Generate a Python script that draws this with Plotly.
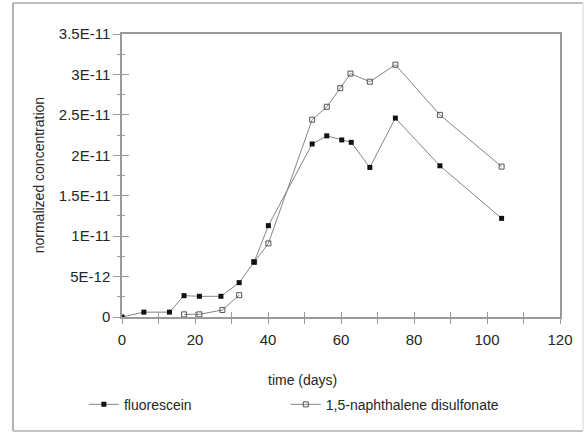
import plotly.graph_objects as go

# Fluorescein breakthrough (filled squares)
fluor_days = [0, 6, 13, 17, 21.2, 27.1, 32.1, 36.2, 40.1, 52.1, 56.1, 60.2, 62.8, 67.9, 74.9, 87.1, 104]
fluor_conc = [0, 0.6e-12, 0.6e-12, 2.64e-12, 2.56e-12, 2.56e-12, 4.25e-12, 6.8e-12, 11.3e-12,
              21.4e-12, 22.4e-12, 21.9e-12, 21.6e-12, 18.5e-12, 24.6e-12, 18.7e-12, 12.2e-12]

# 1,5-naphthalene disulfonate (open squares); None marks the break in the record
naph_days = [17, 21.2, 27.5, 32.1, None, 36.2, 40.1, 52.1, 56.1, 59.8, 62.6, 67.9, 74.9, 87.1, 104]
naph_conc = [0.33e-12, 0.33e-12, 0.87e-12, 2.7e-12, None, 6.8e-12, 9.1e-12, 24.4e-12, 26.0e-12,
             28.3e-12, 30.1e-12, 29.1e-12, 31.2e-12, 25.0e-12, 18.6e-12]

y_tickvals = [0, 5e-12, 1e-11, 1.5e-11, 2e-11, 2.5e-11, 3e-11, 3.5e-11]
y_ticktext = ["0", "5E-12", "1E-11", "1.5E-11", "2E-11", "2.5E-11", "3E-11", "3.5E-11"]
x_tickvals = [0, 20, 40, 60, 80, 100, 120]

FONT = "Liberation Sans, Arial, sans-serif"
TEXT = "#262626"
AXIS = "#9a9a9a"
LINE = "#858585"

fig = go.Figure()

fig.add_trace(go.Scatter(
    x=naph_days, y=naph_conc, mode="lines+markers",
    name="1,5-naphthalene disulfonate", legend="legend2",
    line=dict(color=LINE, width=1),
    marker=dict(symbol="square-open", size=5, color="#555555", line=dict(width=1)),
))
fig.add_trace(go.Scatter(
    x=fluor_days, y=fluor_conc, mode="lines+markers",
    name="fluorescein", legend="legend",
    line=dict(color=LINE, width=1),
    marker=dict(symbol="square", size=5, color="#111111"),
))

# second pair of axes carries the inward half of the crossing tick marks
fig.add_trace(go.Scatter(x=[None], y=[None], xaxis="x2", yaxis="y2",
                         showlegend=False, hoverinfo="skip"))

common = dict(showgrid=False, zeroline=False, tickcolor=AXIS, tickwidth=1)
legend_style = dict(orientation="h", xanchor="left", y=-0.31, yanchor="middle",
                    font=dict(size=14, color=TEXT), bgcolor="rgba(0,0,0,0)")

fig.update_layout(
    width=586, height=433,
    margin=dict(l=122, r=26, t=34, b=116),
    paper_bgcolor="white", plot_bgcolor="white",
    font=dict(family=FONT, size=14, color=TEXT),
    xaxis=dict(range=[0, 120], tickmode="array", tickvals=x_tickvals,
               ticks="outside", ticklen=5, mirror=True, showline=True,
               linecolor=AXIS, linewidth=1.5, ticklabelstandoff=3,
               tickfont=dict(size=15, color=TEXT),
               minor=dict(tickmode="linear", tick0=0, dtick=10, ticks="outside",
                          ticklen=5, tickcolor=AXIS, tickwidth=1),
               **common),
    yaxis=dict(range=[0, 3.5e-11], tickmode="array", tickvals=y_tickvals,
               ticktext=y_ticktext, ticks="outside", ticklen=7, mirror=True,
               showline=True, linecolor=AXIS, linewidth=1.5,
               tickfont=dict(size=15, color=TEXT),
               minor=dict(tickmode="linear", tick0=0, dtick=2.5e-12, ticks="outside",
                          ticklen=3, tickcolor=AXIS, tickwidth=1),
               **common),
    xaxis2=dict(range=[0, 120], overlaying="x", side="bottom", anchor="y2",
                tickmode="array", tickvals=x_tickvals, ticks="inside", ticklen=5,
                showticklabels=False, showline=False,
                minor=dict(tickmode="linear", tick0=0, dtick=10, ticks="inside",
                           ticklen=5, tickcolor=AXIS, tickwidth=1),
                **common),
    yaxis2=dict(range=[0, 3.5e-11], overlaying="y", side="left", anchor="x2",
                tickmode="array", tickvals=y_tickvals, ticks="inside", ticklen=7,
                showticklabels=False, showline=False,
                minor=dict(tickmode="linear", tick0=0, dtick=2.5e-12, ticks="inside",
                           ticklen=3, tickcolor=AXIS, tickwidth=1),
                **common),
    legend=dict(x=-0.087, **legend_style),
    legend2=dict(x=0.374, **legend_style),
    showlegend=True,
)

fig.add_annotation(text="time (days)", xref="paper", yref="paper",
                   x=0.413, y=-0.223, xanchor="center", yanchor="middle",
                   showarrow=False, font=dict(size=14, color=TEXT))
fig.add_annotation(text="normalized concentration", xref="paper", yref="paper",
                   x=-0.19, y=0.5, xanchor="center", yanchor="middle", textangle=-90,
                   showarrow=False, font=dict(size=14, color=TEXT))

# outer frame around the whole figure: strong left/top/bottom, faint right edge
px = lambda v: (v - 122) / 438
py = lambda v: (317 - v) / 283
for (x0, y0, x1, y1, col) in [(13, 3, 583, 3, "#a8a8a8"),
                              (13, 3, 13, 431, "#9a9a9a"),
                              (13, 431, 583, 431, "#b0b0b0"),
                              (583, 3, 583, 431, "#e2e2e2")]:
    fig.add_shape(type="line", xref="paper", yref="paper",
                  x0=px(x0), y0=py(y0), x1=px(x1), y1=py(y1),
                  line=dict(color=col, width=1.5), layer="below")

fig.write_html("out.html")
